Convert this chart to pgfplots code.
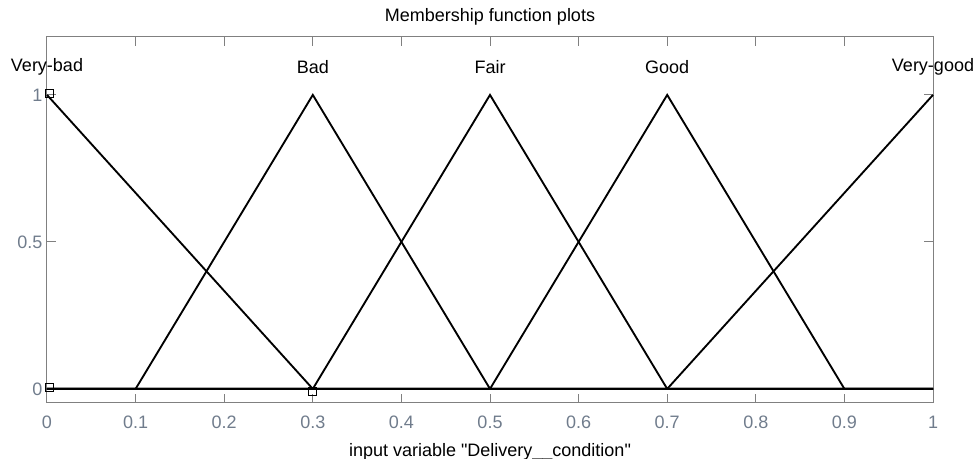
\documentclass[border=0pt]{standalone}
\usepackage{pgfplots}
\pgfplotsset{compat=1.18}
\usepackage{fontspec}
\setmainfont{Liberation Sans}
\definecolor{axgray}{RGB}{128,128,128}
\definecolor{ticklab}{RGB}{112,124,140}
\newcommand{\lbl}{\fontsize{13.5}{16}\selectfont}
\pgfplotsset{mf/.style={black, mark=none, line width=1.4pt}}
\begin{document}
\begin{tikzpicture}[x=0.75pt,y=0.75pt]
\begin{axis}[
  at={(0,0)}, anchor=south west,
  scale only axis,
  width=664.5pt, height=274.5pt,
  xmin=0, xmax=1, ymin=-0.048, ymax=1.197,
  xtick={0,0.1,...,1}, ytick={0,0.5,1},
  xticklabels={0,0.1,0.2,0.3,0.4,0.5,0.6,0.7,0.8,0.9,1},
  yticklabels={0,0.5,1},
  tick align=inside,
  major tick length=6.5pt,
  axis line style={axgray, line width=0.75pt},
  every tick/.style={axgray, line width=0.75pt},
  tick label style={ticklab, font=\lbl},
  xticklabel style={anchor=center, yshift=-14.5pt},
  title={Membership function plots},
  every axis title shift=0pt,
  title style={font=\lbl, at={(axis description cs:0.5,1)}, anchor=center, yshift=15pt},
  xlabel={input variable \textquotedbl Delivery\_\_condition\textquotedbl},
  xlabel style={font=\lbl, at={(axis description cs:0.5,0)}, anchor=center, yshift=-36.5pt},
  clip=false,
]
% Very-bad
\addplot[mf] coordinates {(0,1) (0.3,0) (1,0)};
% Bad
\addplot[mf] coordinates {(0,0) (0.1,0) (0.3,1) (0.5,0) (1,0)};
% Fair
\addplot[mf] coordinates {(0,0) (0.3,0) (0.5,1) (0.7,0) (1,0)};
% Good
\addplot[mf] coordinates {(0,0) (0.5,0) (0.7,1) (0.9,0) (1,0)};
% Very-good
\addplot[mf] coordinates {(0,0) (0.7,0) (1,1)};
% vertex markers of the selected function
\addplot[black, only marks, mark=square, mark size=3pt, line width=0.75pt]
  coordinates {(0.003,1.005) (0.003,0.005) (0.3,-0.01)};
% function names
\node[font=\lbl] at (axis cs:0,1.095) {Very-bad};
\node[font=\lbl] at (axis cs:0.3,1.095) {Bad};
\node[font=\lbl] at (axis cs:0.5,1.095) {Fair};
\node[font=\lbl] at (axis cs:0.7,1.095) {Good};
\node[font=\lbl] at (axis cs:1,1.095) {Very-good};
\end{axis}
\pgfresetboundingbox
\path[use as bounding box] (-47,-56) rectangle (931,403);
\end{tikzpicture}
\end{document}
